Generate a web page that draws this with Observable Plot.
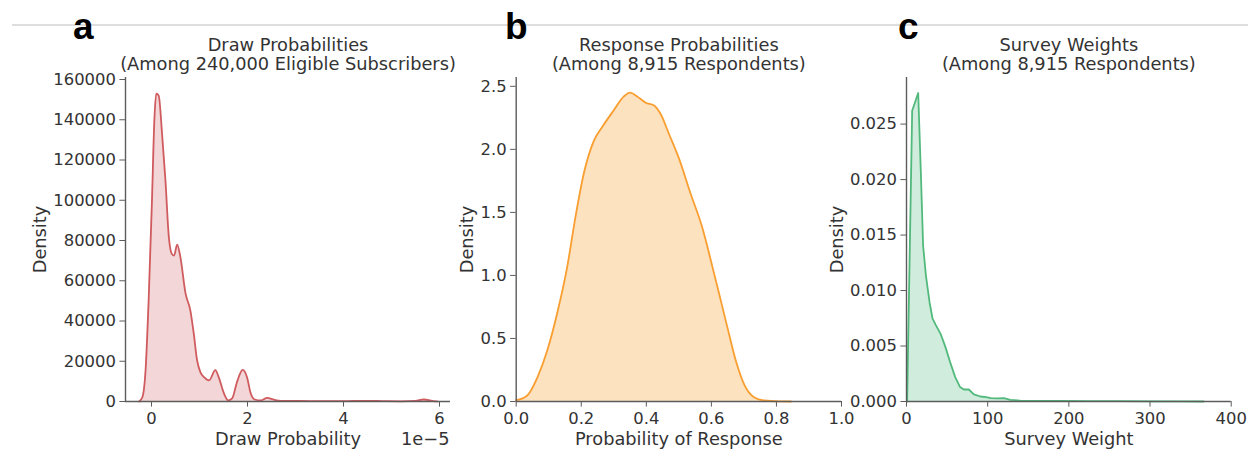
<!DOCTYPE html>
<html><head><meta charset="utf-8">
<script src="https://cdn.jsdelivr.net/npm/d3@7"></script>
<script src="https://cdn.jsdelivr.net/npm/@observablehq/plot@0.6"></script>
<style>
body{margin:0;background:#fff;}
#wrap{position:relative;width:1248px;height:450px;overflow:hidden;background:#fff;}
.panel{position:absolute;top:0;}
#deco{position:absolute;left:0;top:0;}
</style></head>
<body><div id="wrap"></div>
<script>
// Panel a: draw probabilities (x in units of 1e-5)
const drawX = [-0.26,-0.19,-0.125,-0.06,0.01,0.06,0.1,0.15,0.22,0.29,0.36,0.42,0.47,0.535,0.6,0.71,0.81,0.88,0.95,1.02,1.1,1.2,1.33,1.4,1.51,1.6,1.68,1.78,1.9,1.99,2.06,2.15,2.27,2.41,2.55,2.69,2.9,3.3,3.8,4.2,4.5,4.8,5.2,5.5,5.67,5.88,5.95];
const drawY = [0,2100,15000,50000,100000,140000,153000,152000,133000,110000,82000,73500,72500,78000,72000,53600,45200,33800,20400,14500,12000,10500,15600,12100,4000,500,1500,9600,15700,12100,4600,1000,500,1800,900,300,300,200,200,250,300,200,100,300,1000,200,0];
// Panel b: response probabilities
const respX = [0,0.034,0.065,0.095,0.126,0.157,0.182,0.208,0.239,0.265,0.30,0.331,0.35,0.372,0.398,0.423,0.444,0.47,0.50,0.536,0.572,0.603,0.629,0.649,0.675,0.70,0.731,0.762,0.81,0.845];
const respY = [0.01,0.048,0.19,0.40,0.70,1.07,1.46,1.81,2.07,2.18,2.31,2.42,2.45,2.42,2.37,2.35,2.28,2.12,1.93,1.65,1.38,1.07,0.80,0.59,0.325,0.14,0.034,0.008,0.001,0];
// Panel c: survey weights
const wX = [0.8,7,14.4,17.5,20.5,24,28.5,32,36,42,48,54,60,66,70.6,76.8,83,91,98,104,112,120,128,140,160,190,222,260,304,340,366];
const wY = [0,0.0262,0.0278,0.021,0.014,0.0113,0.0089,0.0075,0.0069,0.0061,0.0049,0.0035,0.0022,0.0013,0.00108,0.00108,0.00065,0.00045,0.0004,0.0003,0.00028,0.0003,0.00015,0.00008,0.00006,0.00005,0.00003,0.00003,0.00002,0.00001,0];

// Tick labels / axes
const drawXTicks = [0,2,4,6];
const drawYTicks = [0,20000,40000,60000,80000,100000,120000,140000,160000];
const respXTicks = [0,0.2,0.4,0.6,0.8,1.0];
const respYTicks = [0,0.5,1.0,1.5,2.0,2.5];
const wXTicks = [0,100,200,300,400];
const wYTicks = [0,0.005,0.010,0.015,0.020,0.025];

const titles = [
  ["Draw Probabilities","(Among 240,000 Eligible Subscribers)"],
  ["Response Probabilities","(Among 8,915 Respondents)"],
  ["Survey Weights","(Among 8,915 Respondents)"]
];
const xLabels = ["Draw Probability","Probability of Response","Survey Weight"];
const yLabel = "Density";
const letters = ["a","b","c"];

const FONT = "DejaVu Sans";
const FS_TICK = 16.4;
const FS_LAB = 17.8;
const SPINE = "#5c5c5c";
const TXT = "#333";

function panel(o){
  const rows = o.X.map((x,i)=>({x, y:o.Y[i]}));
  const marks = [
    Plot.areaY(rows,{x:"x",y:"y",fill:o.color,fillOpacity:o.alpha,curve:o.curve}),
    Plot.lineY(rows,{x:"x",y:"y",stroke:o.color,strokeWidth:1.8,curve:o.curve}),
    Plot.ruleY([o.yDomain[0]],{stroke:SPINE,strokeWidth:1.4}),
    Plot.ruleX([o.xDomain[0]],{stroke:SPINE,strokeWidth:1.4}),
    Plot.axisX({ticks:o.xTicks,tickFormat:o.xFmt,tickSize:5.6,tickPadding:5,stroke:SPINE,fill:TXT,label:null,fontSize:FS_TICK}),
    Plot.axisY({ticks:o.yTicks,tickFormat:o.yFmt,tickSize:5.6,tickPadding:4,stroke:SPINE,fill:TXT,label:null,fontSize:FS_TICK}),
    Plot.text([yLabel],{frameAnchor:"left",rotate:-90,textAnchor:"middle",lineAnchor:"middle",dx:o.ylabDx,fill:TXT,fontSize:FS_LAB}),
    Plot.text([o.xlabel],{frameAnchor:"bottom",lineAnchor:"middle",dy:38,fill:TXT,fontSize:FS_LAB}),
    Plot.text([o.title[0]],{frameAnchor:"top",lineAnchor:"middle",dy:-32,fill:TXT,fontSize:FS_LAB}),
    Plot.text([o.title[1]],{frameAnchor:"top",lineAnchor:"middle",dy:-13,fill:TXT,fontSize:FS_LAB})
  ];
  if (o.extra) marks.push(Plot.text([o.extra],{frameAnchor:"bottom-right",textAnchor:"end",lineAnchor:"middle",dx:-1,dy:38,fill:TXT,fontSize:FS_LAB}));
  const svg = Plot.plot({
    width:o.width,height:450,
    marginLeft:o.ml,marginRight:o.mr,marginTop:77,marginBottom:49,
    style:{fontFamily:FONT,fontSize:FS_TICK+"px",color:TXT,background:"transparent",overflow:"visible"},
    x:{domain:o.xDomain},
    y:{domain:o.yDomain},
    marks
  });
  svg.classList.add("panel");
  svg.style.left = o.left+"px";
  return svg;
}

const wrap = document.getElementById("wrap");

// decoration layer (separator rule + panel letters)
const ns = "http://www.w3.org/2000/svg";
const deco = document.createElementNS(ns,"svg");
deco.setAttribute("id","deco");
deco.setAttribute("width",1248); deco.setAttribute("height",450);
const ln = document.createElementNS(ns,"line");
ln.setAttribute("x1",12); ln.setAttribute("x2",1248); ln.setAttribute("y1",25); ln.setAttribute("y2",25);
ln.setAttribute("stroke","#dedede"); ln.setAttribute("stroke-width",2);
deco.appendChild(ln);
wrap.appendChild(deco);

wrap.appendChild(panel({left:0,width:470,ml:125,mr:20,
  xDomain:[-0.5417,6.229],yDomain:[0,161000],xTicks:drawXTicks,yTicks:drawYTicks,
  xFmt:d3.format("d"),yFmt:d3.format("d"),X:drawX,Y:drawY,color:"#cf5b5e",alpha:0.25,curve:"monotone-x",
  title:titles[0],xlabel:xLabels[0],ylabDx:-85,extra:"1e\u22125"}));
wrap.appendChild(panel({left:420,width:440,ml:95.7,mr:19,
  xDomain:[0,1],yDomain:[0,2.57],xTicks:respXTicks,yTicks:respYTicks,
  xFmt:d3.format(".1f"),yFmt:d3.format(".1f"),X:respX,Y:respY,color:"#f99e30",alpha:0.3,curve:"monotone-x",
  title:titles[1],xlabel:xLabels[1],ylabDx:-48.7}));
wrap.appendChild(panel({left:800,width:448,ml:106,mr:17.3,
  xDomain:[0,400],yDomain:[0,0.0292],xTicks:wXTicks,yTicks:wYTicks,
  xFmt:d3.format("d"),yFmt:d3.format(".3f"),X:wX,Y:wY,color:"#52b97c",alpha:0.27,curve:"linear",
  title:titles[2],xlabel:xLabels[2],ylabDx:-69}));

// letters on top
const deco2 = document.createElementNS(ns,"svg");
deco2.setAttribute("width",1248); deco2.setAttribute("height",450);
deco2.style.position="absolute"; deco2.style.left="0"; deco2.style.top="0";
[[73,letters[0]],[505,letters[1]],[898,letters[2]]].forEach(([x,t])=>{
  const tx = document.createElementNS(ns,"text");
  tx.setAttribute("x",x); tx.setAttribute("y",39);
  tx.setAttribute("font-family","'Liberation Sans', Arial, sans-serif");
  tx.setAttribute("font-weight","bold"); tx.setAttribute("font-size",37);
  tx.textContent = t;
  deco2.appendChild(tx);
});
wrap.appendChild(deco2);
</script>
</body></html>
